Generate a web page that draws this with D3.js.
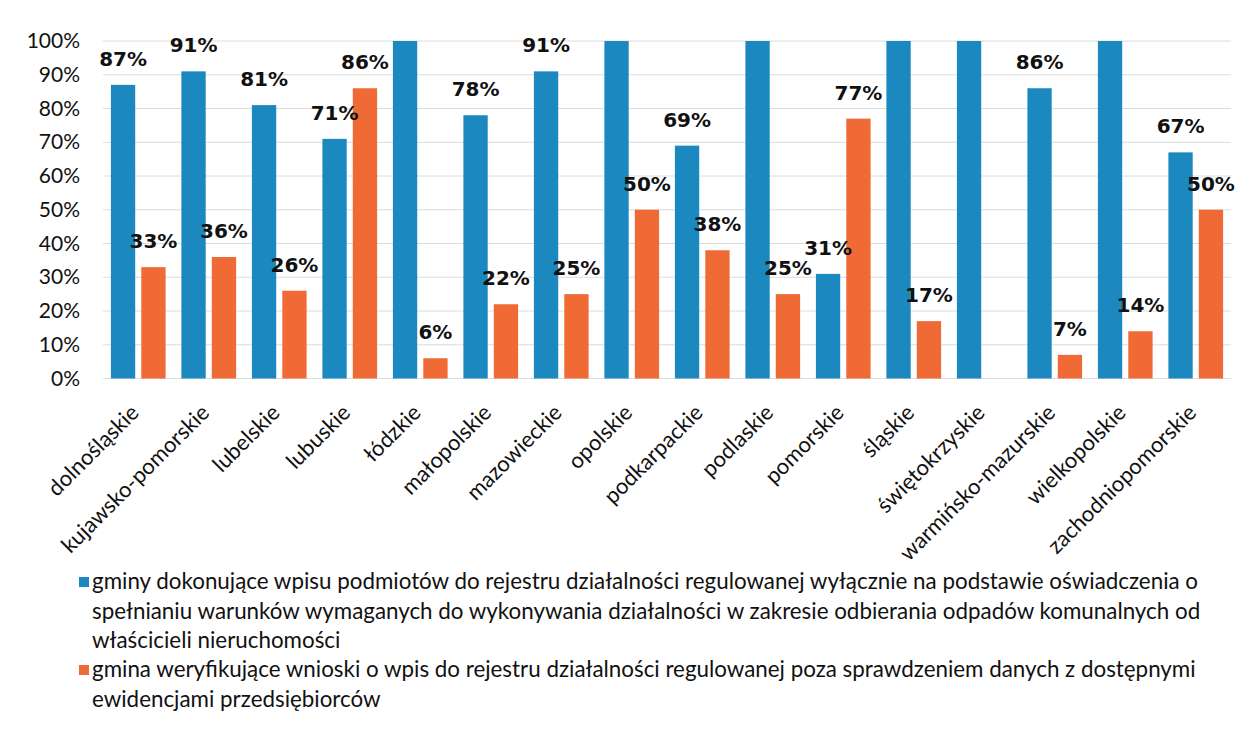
<!DOCTYPE html>
<html><head><meta charset="utf-8">
<script src="https://cdn.jsdelivr.net/npm/d3@7"></script>
<style>body{margin:0;background:#fff} svg{display:block}</style>
</head><body><svg id="c" width="1254" height="733"></svg>
<script>
const categories = ["dolnośląskie","kujawsko-pomorskie","lubelskie","lubuskie","łódzkie","małopolskie","mazowieckie","opolskie","podkarpackie","podlaskie","pomorskie","śląskie","świętokrzyskie","warmińsko-mazurskie","wielkopolskie","zachodniopomorskie"];
const seriesA = [87,91,81,71,100,78,91,100,69,100,31,100,100,86,100,67];
const seriesB = [33,36,26,86,6,22,25,50,38,25,77,17,0,7,14,50];
const yTicks = [0,10,20,30,40,50,60,70,80,90,100];
const seriesKeys = ["a","b"];
const seriesColors = ["#1c88c0","#ef6a35"];
const legendA = ["gminy dokonujące wpisu podmiotów do rejestru działalności regulowanej wyłącznie na podstawie oświadczenia o",
  "spełnianiu warunków wymaganych do wykonywania działalności w zakresie odbierania odpadów komunalnych od",
  "właścicieli nieruchomości"];
const legendB = ["gmina weryfikujące wnioski o wpis do rejestru działalności regulowanej poza sprawdzeniem danych z dostępnymi",
  "ewidencjami przedsiębiorców"];

const svg = d3.select("#c");
svg.append("rect").attr("width",1254).attr("height",733).attr("fill","#fff");

const x0 = d3.scaleBand().domain(categories).range([103,1231]).paddingInner(0).paddingOuter(0);
const x1 = d3.scaleBand().domain(seriesKeys).range([0,x0.bandwidth()]).paddingInner(0.2).paddingOuter(0.26);
const y = d3.scaleLinear().domain([0,100]).range([378.5,41]);
const color = d3.scaleOrdinal().domain(seriesKeys).range(seriesColors);

// gridlines
svg.append("g").selectAll("line").data(yTicks).join("line")
  .attr("x1",103).attr("x2",1231)
  .attr("y1",d=>y(d)).attr("y2",d=>y(d))
  .attr("stroke","#dcdcdc").attr("stroke-width",1);

// y axis labels
const yAxis = d3.axisLeft(y).tickValues(yTicks).tickFormat(d=>d+"%").tickSize(0).tickPadding(0);
const ya = svg.append("g").attr("transform","translate(80,0)").call(yAxis);
ya.select(".domain").remove();
ya.selectAll("text").attr("font-family","Lato, sans-serif").attr("font-size",21).attr("fill","#111");

const data = categories.map((c,i)=>({cat:c, vals:[{k:"a",v:seriesA[i]},{k:"b",v:seriesB[i]}]}));

const groups = svg.append("g").selectAll("g").data(data).join("g")
  .attr("transform",d=>`translate(${x0(d.cat)},0)`);
groups.selectAll("rect").data(d=>d.vals).join("rect")
  .attr("x",d=>x1(d.k)).attr("width",x1.bandwidth())
  .attr("y",d=>y(d.v)).attr("height",d=>y(0)-y(d.v))
  .attr("fill",d=>color(d.k));
groups.selectAll("text.lbl").data(d=>d.vals.filter(v=>v.v>0&&v.v<100)).join("text")
  .attr("class","lbl")
  .attr("x",d=>x1(d.k)+x1.bandwidth()/2)
  .attr("y",d=>y(d.v)-19)
  .attr("text-anchor","middle")
  .attr("font-family","'DejaVu Sans', sans-serif").attr("font-weight","bold")
  .attr("font-size",20).attr("fill","#111")
  .text(d=>d.v+"%");

// x axis labels
svg.append("g").selectAll("text").data(categories).join("text")
  .attr("transform",d=>`translate(${x0(d)+x0.bandwidth()/2+2},414) rotate(-45)`)
  .attr("text-anchor","end")
  .attr("font-family","Lato, sans-serif").attr("font-size",22).attr("fill","#111")
  .text(d=>d);

// legend
const lg = svg.append("g");
const baselines = [589,618.5,648,677,706.5];
const lines = legendA.map((t,i)=>({t, s:0, first:i===0})).concat(legendB.map((t,i)=>({t,s:1,first:i===0})));
const lt = lg.selectAll("text").data(lines).join("text")
  .attr("x",92).attr("y",(d,i)=>baselines[i])
  .attr("font-family","Lato, sans-serif").attr("font-size",20).attr("fill","#111")
  .text(d=>d.t);
const len = lt.nodes()[0].getComputedTextLength();
lt.attr("font-size", 20*1107/len);
lg.selectAll("rect").data(lines.map((d,i)=>({...d,i})).filter(d=>d.first)).join("rect")
  .attr("x",79).attr("y",d=>baselines[d.i]-12).attr("width",10).attr("height",10)
  .attr("fill",d=>seriesColors[d.s]);
</script>
</body></html>
